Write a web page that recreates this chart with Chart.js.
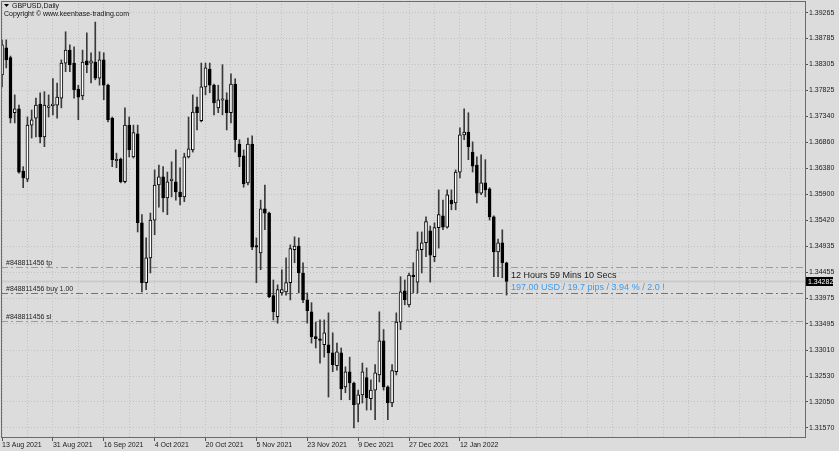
<!DOCTYPE html>
<html>
<head>
<meta charset="utf-8">
<title>GBPUSD,Daily</title>
<script src="https://cdn.jsdelivr.net/npm/chart.js@4.4.1/dist/chart.umd.min.js"></script>
<style>
  html, body { margin: 0; padding: 0; background: #dcdcdc; }
  #wrap { position: relative; width: 839px; height: 451px; }
</style>
</head>
<body>
<div id="wrap"><canvas id="chart"></canvas></div>
<script>
// one date label every 12 daily bars, starting at bar 0
const dateLabels = [
  "13 Aug 2021", "31 Aug 2021", "16 Sep 2021", "4 Oct 2021", "20 Oct 2021",
  "5 Nov 2021", "23 Nov 2021", "9 Dec 2021", "27 Dec 2021", "12 Jan 2022",
];

const priceTicks = [
  1.31570, 1.32050, 1.32530, 1.33010, 1.33495, 1.33975, 1.34455, 1.34935, 1.35420,
  1.35900, 1.36380, 1.36860, 1.37340, 1.37825, 1.38305, 1.38785, 1.39265,
];

const opens = [
  1.3811, 1.3861, 1.3843, 1.3741, 1.3748, 1.3633, 1.3618, 1.3718, 1.3731, 1.3757,
  1.3696, 1.3751, 1.3754, 1.3755, 1.3768, 1.3833, 1.3857, 1.3833, 1.3785, 1.3772,
  1.3837, 1.3833, 1.3835, 1.3805, 1.3839, 1.3792, 1.3731, 1.3652, 1.3655, 1.3613,
  1.3718, 1.3659, 1.3702, 1.3537, 1.3426, 1.3472, 1.3542, 1.3607, 1.3622, 1.3583,
  1.3615, 1.3613, 1.3594, 1.3585, 1.3659, 1.3672, 1.3752, 1.3726, 1.3789, 1.3822,
  1.3792, 1.3750, 1.3764, 1.3765, 1.3741, 1.3794, 1.3683, 1.3661, 1.3611, 1.3683,
  1.3493, 1.3481, 1.3563, 1.3555, 1.3402, 1.3363, 1.3407, 1.3409, 1.3426, 1.3487,
  1.3494, 1.3444, 1.3394, 1.3372, 1.3326, 1.3320, 1.3311, 1.3311, 1.3296, 1.3272,
  1.3296, 1.3233, 1.3261, 1.3240, 1.3201, 1.3218, 1.3250, 1.3211, 1.3227, 1.3255,
  1.3318, 1.3233, 1.3203, 1.3261, 1.3353, 1.3411, 1.3385, 1.3440, 1.3427, 1.3487,
  1.3500, 1.3522, 1.3474, 1.3528, 1.3550, 1.3529, 1.3579, 1.3574, 1.3631, 1.3700,
  1.3705, 1.3668, 1.3644, 1.3592, 1.3611, 1.3600, 1.3548, 1.3483, 1.3500, 1.3463,
];

const highs = [
  1.3876, 1.3876, 1.3846, 1.3774, 1.3755, 1.3641, 1.3733, 1.3746, 1.3768, 1.3778,
  1.3780, 1.3774, 1.3804, 1.3796, 1.3839, 1.3891, 1.3867, 1.3863, 1.3792, 1.3857,
  1.3889, 1.3852, 1.3909, 1.3854, 1.3852, 1.3794, 1.3733, 1.3666, 1.3657, 1.3750,
  1.3733, 1.3718, 1.3718, 1.3552, 1.3509, 1.3555, 1.3635, 1.3644, 1.3641, 1.3631,
  1.3650, 1.3672, 1.3639, 1.3666, 1.3733, 1.3774, 1.3770, 1.3833, 1.3833, 1.3833,
  1.3794, 1.3792, 1.3830, 1.3778, 1.3813, 1.3804, 1.3691, 1.3672, 1.3694, 1.3698,
  1.3509, 1.3579, 1.3607, 1.3557, 1.3431, 1.3422, 1.3450, 1.3472, 1.3496, 1.3511,
  1.3509, 1.3463, 1.3407, 1.3389, 1.3353, 1.3357, 1.3357, 1.3370, 1.3333, 1.3314,
  1.3305, 1.3270, 1.3288, 1.3242, 1.3227, 1.3277, 1.3268, 1.3246, 1.3274, 1.3372,
  1.3339, 1.3235, 1.3274, 1.3370, 1.3437, 1.3431, 1.3444, 1.3463, 1.3520, 1.3520,
  1.3548, 1.3531, 1.3537, 1.3598, 1.3579, 1.3598, 1.3598, 1.3635, 1.3713, 1.3748,
  1.3741, 1.3687, 1.3659, 1.3663, 1.3654, 1.3602, 1.3550, 1.3507, 1.3524, 1.3464,
];

const lows = [
  1.3789, 1.3824, 1.3722, 1.3722, 1.3629, 1.3602, 1.3613, 1.3694, 1.3696, 1.3685,
  1.3678, 1.3733, 1.3737, 1.3731, 1.3750, 1.3817, 1.3817, 1.3768, 1.3728, 1.3765,
  1.3815, 1.3796, 1.3802, 1.3792, 1.3765, 1.3724, 1.3641, 1.3639, 1.3611, 1.3611,
  1.3659, 1.3657, 1.3520, 1.3409, 1.3413, 1.3444, 1.3515, 1.3566, 1.3557, 1.3552,
  1.3585, 1.3579, 1.3570, 1.3576, 1.3657, 1.3668, 1.3709, 1.3724, 1.3774, 1.3778,
  1.3737, 1.3741, 1.3737, 1.3709, 1.3722, 1.3668, 1.3641, 1.3603, 1.3607, 1.3487,
  1.3426, 1.3450, 1.3524, 1.3398, 1.3357, 1.3351, 1.3403, 1.3403, 1.3394, 1.3463,
  1.3407, 1.3389, 1.3351, 1.3314, 1.3305, 1.3277, 1.3288, 1.3214, 1.3261, 1.3264,
  1.3209, 1.3222, 1.3209, 1.3157, 1.3168, 1.3203, 1.3190, 1.3190, 1.3172, 1.3242,
  1.3227, 1.3172, 1.3196, 1.3255, 1.3339, 1.3385, 1.3381, 1.3407, 1.3407, 1.3444,
  1.3474, 1.3427, 1.3465, 1.3490, 1.3524, 1.3527, 1.3561, 1.3561, 1.3620, 1.3691,
  1.3654, 1.3631, 1.3574, 1.3589, 1.3585, 1.3542, 1.3437, 1.3437, 1.3435, 1.3403,
];

const closes = [
  1.3867, 1.3839, 1.3731, 1.3748, 1.3631, 1.3620, 1.3718, 1.3728, 1.3755, 1.3696,
  1.3755, 1.3752, 1.3755, 1.3770, 1.3833, 1.3857, 1.3830, 1.3783, 1.3770, 1.3835,
  1.3830, 1.3837, 1.3805, 1.3839, 1.3792, 1.3728, 1.3654, 1.3654, 1.3613, 1.3718,
  1.3672, 1.3704, 1.3537, 1.3426, 1.3472, 1.3542, 1.3607, 1.3622, 1.3583, 1.3613,
  1.3617, 1.3594, 1.3585, 1.3659, 1.3674, 1.3742, 1.3741, 1.3789, 1.3824, 1.3792,
  1.3759, 1.3765, 1.3765, 1.3741, 1.3794, 1.3691, 1.3659, 1.3609, 1.3683, 1.3492,
  1.3492, 1.3563, 1.3555, 1.3400, 1.3372, 1.3413, 1.3413, 1.3426, 1.3489, 1.3494,
  1.3444, 1.3394, 1.3374, 1.3326, 1.3322, 1.3319, 1.3333, 1.3296, 1.3274, 1.3298,
  1.3229, 1.3261, 1.3240, 1.3200, 1.3218, 1.3261, 1.3213, 1.3227, 1.3259, 1.3318,
  1.3233, 1.3203, 1.3263, 1.3353, 1.3409, 1.3394, 1.3440, 1.3437, 1.3487, 1.3500,
  1.3539, 1.3477, 1.3528, 1.3552, 1.3529, 1.3589, 1.3572, 1.3631, 1.3700, 1.3705,
  1.3678, 1.3642, 1.3592, 1.3611, 1.3598, 1.3548, 1.3483, 1.3500, 1.3463, 1.34282,
];

// open order levels
const orderId = "#848811456";
const tpPrice = 1.34558;
const entryPrice = 1.34076;
const slPrice = 1.33557;
const bidPrice = 1.34282;
const timerText = "12 Hours 59 Mins 10 Secs";
const profitText = "197.00 USD / 19.7 pips / 3.94 % / 2.0 !";

const fontFamily = '"Liberation Sans", Arial, sans-serif';
const xMin = -0.236;
const xMax = 189.39;

const labelFor = (value) =>
  value % 12 === 0 && value / 12 < dateLabels.length ? dateLabels[value / 12] : "";

const bodyData = opens.map((open, i) => ({ x: i, y: [open, closes[i]] }));
const wickData = lows.map((low, i) => ({ x: i, y: [low, highs[i]] }));

const overlay = {
  id: "overlay",
  beforeDatasetsDraw(chart) {
    const { ctx, chartArea: area, scales } = chart;
    const y = scales.y;
    ctx.save();

    // bid line
    ctx.strokeStyle = "#cbcbcb";
    ctx.lineWidth = 2;
    ctx.beginPath();
    ctx.moveTo(area.left, y.getPixelForValue(bidPrice));
    ctx.lineTo(area.right, y.getPixelForValue(bidPrice));
    ctx.stroke();

    const levels = [
      { price: tpPrice, color: "rgb(245, 125, 70)", text: orderId + " tp" },
      { price: entryPrice, color: "rgb(40, 170, 40)", text: orderId + " buy 1.00" },
      { price: slPrice, color: "rgb(245, 125, 70)", text: orderId + " sl" },
    ];
    levels.forEach((level) => {
      const py = Math.round(y.getPixelForValue(level.price)) + 0.5;
      ctx.save();
      ctx.lineWidth = 1;
      ctx.setLineDash([7, 3, 2, 3]);
      ctx.strokeStyle = level.color;
      ctx.beginPath();
      ctx.moveTo(area.left, py);
      ctx.lineTo(area.right, py);
      ctx.stroke();
      ctx.restore();
    });
    ctx.font = "7px " + fontFamily;
    ctx.fillStyle = "#1e1e1e";
    ctx.textBaseline = "alphabetic";
    levels.forEach((level) => {
      const py = y.getPixelForValue(level.price);
      ctx.fillText(level.text, 6, py - 1.5);
    });
    ctx.restore();
  },
  afterDraw(chart) {
    const { ctx, chartArea: area, scales } = chart;
    const x = scales.x;
    const y = scales.y;
    ctx.save();

    // frame top and left
    ctx.strokeStyle = "#6a6a6a";
    ctx.lineWidth = 1;
    ctx.beginPath();
    ctx.moveTo(area.left + 0.5, area.bottom);
    ctx.lineTo(area.left + 0.5, area.top + 0.5);
    ctx.lineTo(area.right, area.top + 0.5);
    ctx.stroke();

    // title
    ctx.fillStyle = "#000";
    ctx.beginPath();
    ctx.moveTo(4, 4);
    ctx.lineTo(9, 4);
    ctx.lineTo(6.5, 7);
    ctx.closePath();
    ctx.fill();
    ctx.font = "7px " + fontFamily;
    ctx.textBaseline = "middle";
    ctx.fillStyle = "#111";
    ctx.fillText("GBPUSD,Daily", 12, 6);
    ctx.fillText("Copyright \u00a9 www.keenbase-trading.com", 4, 14);

    // timer and profit texts next to the last bar
    const bidY = y.getPixelForValue(bidPrice);
    const textX = x.getPixelForValue(opens.length - 1) + 4.5;
    ctx.font = "9px " + fontFamily;
    ctx.fillStyle = "#1a1a1a";
    ctx.fillText(timerText, textX, bidY - 6);
    ctx.fillStyle = "#3d9be9";
    ctx.fillText(profitText, textX, bidY + 6);

    // bid price tag
    ctx.fillStyle = "#000";
    ctx.fillRect(area.right + 1, bidY - 4.5, 27, 9);
    ctx.fillStyle = "#fff";
    ctx.font = "7px " + fontFamily;
    ctx.fillText(bidPrice.toFixed(5), area.right + 3, bidY + 0.5);
    ctx.restore();
  },
};

new Chart(document.getElementById("chart"), {
  type: "bar",
  data: {
    datasets: [
      {
        label: "body",
        data: bodyData,
        order: 0,
        grouped: false,
        barThickness: 3,
        minBarLength: 1.5,
        borderWidth: 1,
        borderSkipped: false,
        borderColor: "#000",
        backgroundColor: (c) =>
          closes[c.dataIndex] >= opens[c.dataIndex] ? "#ffffff" : "#000000",
      },
      {
        label: "wick",
        data: wickData,
        order: 1,
        grouped: false,
        barThickness: 1,
        borderWidth: 0,
        backgroundColor: "#3a3a3a",
      },
    ],
  },
  options: {
    responsive: true,
    maintainAspectRatio: false,
    animation: false,
    events: [],
    layout: { padding: { left: 1, top: 1, right: 0, bottom: 0 } },
    plugins: {
      legend: { display: false },
      tooltip: { enabled: false },
    },
    scales: {
      x: {
        type: "linear",
        min: xMin,
        max: xMax,
        offset: false,
        afterBuildTicks: (scale) => {
          const ticks = [];
          for (let i = 0; i <= xMax; i += 6) ticks.push({ value: i });
          scale.ticks = ticks;
        },
        afterFit: (scale) => {
          scale.height = 14;
          scale.paddingLeft = 0;
          scale.paddingRight = 0;
        },
        grid: {
          offset: false,
          color: "#c2c2c2",
          lineWidth: 1,
          tickLength: 4,
          tickColor: (c) =>
            c.tick && labelFor(c.tick.value) ? "#555" : "rgba(0,0,0,0)",
        },
        border: { color: "#6a6a6a", width: 1, dash: [1, 2] },
        ticks: {
          autoSkip: false,
          maxRotation: 0,
          align: "start",
          padding: 0,
          color: "#1a1a1a",
          font: { family: fontFamily, size: 7 },
          callback: (value) => labelFor(value),
        },
      },
      y: {
        type: "linear",
        position: "right",
        min: 1.3140,
        max: 1.3948,
        afterBuildTicks: (scale) => {
          scale.ticks = priceTicks.map((value) => ({ value }));
        },
        afterFit: (scale) => {
          scale.width = 34;
          scale.paddingTop = 0;
          scale.paddingBottom = 0;
        },
        grid: {
          color: "#c2c2c2",
          lineWidth: 1,
          tickLength: 3,
          tickColor: "#555",
        },
        border: { color: "#6a6a6a", width: 1, dash: [1, 2] },
        ticks: {
          padding: 1,
          color: "#1a1a1a",
          font: { family: fontFamily, size: 7 },
          callback: (value) => Number(value).toFixed(5),
        },
      },
    },
  },
  plugins: [overlay],
});
</script>
</body>
</html>
